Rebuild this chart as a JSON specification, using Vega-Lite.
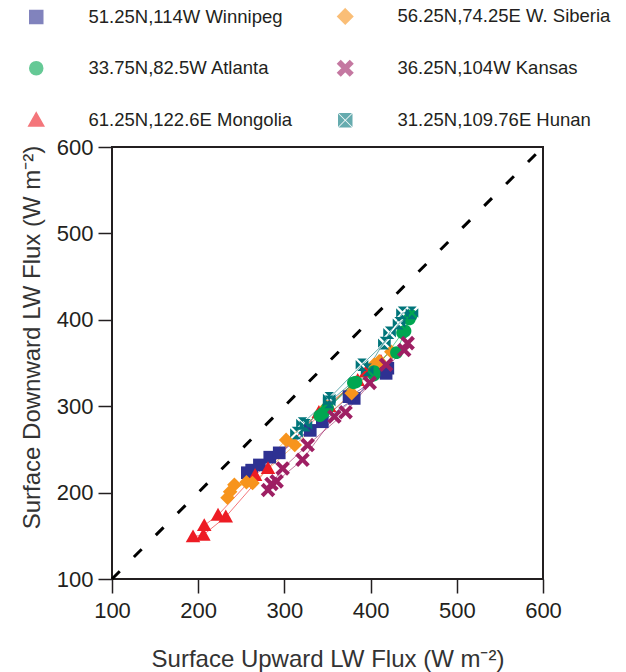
{
  "$schema": "https://vega.github.io/schema/vega-lite/v6.json",
  "width": 431,
  "height": 432,
  "autosize": {"type": "none"},
  "padding": {"left": 112, "top": 147, "right": 83, "bottom": 93},
  "background": "white",
  "config": {
    "font": "Liberation Sans",
    "view": {"stroke": "#231f20", "strokeWidth": 2},
    "axis": {
      "domain": false, "grid": false,
      "tickSize": 14, "tickWidth": 1.5, "tickColor": "#231f20",
      "labelFontSize": 22, "labelColor": "#231f20",
      "labelFlush": false, "labelOverlap": false,
      "titleFontSize": 24, "titleFontWeight": "normal", "titleColor": "#333333"
    },
    "axisX": {"labelPadding": 7, "titlePadding": 26},
    "axisY": {"labelPadding": 5, "titlePadding": 12, "titleY": 190},
    "legend": {
      "orient": "none", "legendX": -105, "legendY": -140,
      "columns": 2, "padding": 0,
      "symbolSize": 169, "symbolOffset": 20, "labelOffset": 43,
      "labelFontSize": 18.5, "labelColor": "#231f20", "labelLimit": 400,
      "rowPadding": 30, "columnPadding": 23
    }
  },
  "datasets": {
    "diag": [{"x0": 100, "y0": 100, "x1": 600, "y1": 600}],
    "flux": [
      {"site": "51.25N,114W Winnipeg", "month": 1, "up": 257, "down": 223},
      {"site": "51.25N,114W Winnipeg", "month": 2, "up": 262, "down": 226},
      {"site": "51.25N,114W Winnipeg", "month": 3, "up": 283, "down": 241},
      {"site": "51.25N,114W Winnipeg", "month": 4, "up": 344, "down": 282},
      {"site": "51.25N,114W Winnipeg", "month": 5, "up": 381, "down": 309},
      {"site": "51.25N,114W Winnipeg", "month": 6, "up": 416, "down": 342},
      {"site": "51.25N,114W Winnipeg", "month": 7, "up": 420, "down": 344},
      {"site": "51.25N,114W Winnipeg", "month": 8, "up": 418, "down": 338},
      {"site": "51.25N,114W Winnipeg", "month": 9, "up": 375, "down": 311},
      {"site": "51.25N,114W Winnipeg", "month": 10, "up": 330, "down": 272},
      {"site": "51.25N,114W Winnipeg", "month": 11, "up": 294, "down": 246},
      {"site": "51.25N,114W Winnipeg", "month": 12, "up": 271, "down": 232},
      {"site": "61.25N,122.6E Mongolia", "month": 1, "up": 194, "down": 149},
      {"site": "61.25N,122.6E Mongolia", "month": 2, "up": 206, "down": 151},
      {"site": "61.25N,122.6E Mongolia", "month": 3, "up": 232, "down": 172},
      {"site": "61.25N,122.6E Mongolia", "month": 4, "up": 281, "down": 228},
      {"site": "61.25N,122.6E Mongolia", "month": 5, "up": 340, "down": 293},
      {"site": "61.25N,122.6E Mongolia", "month": 6, "up": 385, "down": 330},
      {"site": "61.25N,122.6E Mongolia", "month": 7, "up": 412, "down": 352},
      {"site": "61.25N,122.6E Mongolia", "month": 8, "up": 395, "down": 340},
      {"site": "61.25N,122.6E Mongolia", "month": 9, "up": 352, "down": 300},
      {"site": "61.25N,122.6E Mongolia", "month": 10, "up": 266, "down": 220},
      {"site": "61.25N,122.6E Mongolia", "month": 11, "up": 223, "down": 174},
      {"site": "61.25N,122.6E Mongolia", "month": 12, "up": 207, "down": 162},
      {"site": "56.25N,74.25E W. Siberia", "month": 1, "up": 234, "down": 194},
      {"site": "56.25N,74.25E W. Siberia", "month": 2, "up": 237, "down": 201},
      {"site": "56.25N,74.25E W. Siberia", "month": 3, "up": 256, "down": 212},
      {"site": "56.25N,74.25E W. Siberia", "month": 4, "up": 302, "down": 261},
      {"site": "56.25N,74.25E W. Siberia", "month": 5, "up": 349, "down": 299},
      {"site": "56.25N,74.25E W. Siberia", "month": 6, "up": 404, "down": 348},
      {"site": "56.25N,74.25E W. Siberia", "month": 7, "up": 424, "down": 363},
      {"site": "56.25N,74.25E W. Siberia", "month": 8, "up": 410, "down": 352},
      {"site": "56.25N,74.25E W. Siberia", "month": 9, "up": 378, "down": 315},
      {"site": "56.25N,74.25E W. Siberia", "month": 10, "up": 312, "down": 255},
      {"site": "56.25N,74.25E W. Siberia", "month": 11, "up": 263, "down": 211},
      {"site": "56.25N,74.25E W. Siberia", "month": 12, "up": 242, "down": 209},
      {"site": "33.75N,82.5W Atlanta", "month": 1, "up": 341, "down": 289},
      {"site": "33.75N,82.5W Atlanta", "month": 2, "up": 345, "down": 292},
      {"site": "33.75N,82.5W Atlanta", "month": 3, "up": 383, "down": 328},
      {"site": "33.75N,82.5W Atlanta", "month": 4, "up": 404, "down": 336},
      {"site": "33.75N,82.5W Atlanta", "month": 5, "up": 430, "down": 362},
      {"site": "33.75N,82.5W Atlanta", "month": 6, "up": 440, "down": 387},
      {"site": "33.75N,82.5W Atlanta", "month": 7, "up": 447, "down": 405},
      {"site": "33.75N,82.5W Atlanta", "month": 8, "up": 445, "down": 401},
      {"site": "33.75N,82.5W Atlanta", "month": 9, "up": 437, "down": 385},
      {"site": "33.75N,82.5W Atlanta", "month": 10, "up": 404, "down": 340},
      {"site": "33.75N,82.5W Atlanta", "month": 11, "up": 380, "down": 327},
      {"site": "33.75N,82.5W Atlanta", "month": 12, "up": 350, "down": 298},
      {"site": "36.25N,104W Kansas", "month": 1, "up": 281, "down": 203},
      {"site": "36.25N,104W Kansas", "month": 2, "up": 291, "down": 213},
      {"site": "36.25N,104W Kansas", "month": 3, "up": 321, "down": 238},
      {"site": "36.25N,104W Kansas", "month": 4, "up": 358, "down": 288},
      {"site": "36.25N,104W Kansas", "month": 5, "up": 399, "down": 327},
      {"site": "36.25N,104W Kansas", "month": 6, "up": 439, "down": 365},
      {"site": "36.25N,104W Kansas", "month": 7, "up": 443, "down": 373},
      {"site": "36.25N,104W Kansas", "month": 8, "up": 418, "down": 348},
      {"site": "36.25N,104W Kansas", "month": 9, "up": 371, "down": 293},
      {"site": "36.25N,104W Kansas", "month": 10, "up": 327, "down": 255},
      {"site": "36.25N,104W Kansas", "month": 11, "up": 298, "down": 228},
      {"site": "36.25N,104W Kansas", "month": 12, "up": 285, "down": 210},
      {"site": "31.25N,109.76E Hunan", "month": 1, "up": 314, "down": 269},
      {"site": "31.25N,109.76E Hunan", "month": 2, "up": 321, "down": 280},
      {"site": "31.25N,109.76E Hunan", "month": 3, "up": 352, "down": 309},
      {"site": "31.25N,109.76E Hunan", "month": 4, "up": 390, "down": 348},
      {"site": "31.25N,109.76E Hunan", "month": 5, "up": 416, "down": 373},
      {"site": "31.25N,109.76E Hunan", "month": 6, "up": 433, "down": 396},
      {"site": "31.25N,109.76E Hunan", "month": 7, "up": 448, "down": 408},
      {"site": "31.25N,109.76E Hunan", "month": 8, "up": 437, "down": 408},
      {"site": "31.25N,109.76E Hunan", "month": 9, "up": 422, "down": 385},
      {"site": "31.25N,109.76E Hunan", "month": 10, "up": 396, "down": 342},
      {"site": "31.25N,109.76E Hunan", "month": 11, "up": 352, "down": 305},
      {"site": "31.25N,109.76E Hunan", "month": 12, "up": 325, "down": 278}
    ]
  },
  "layer": [
    {
      "data": {"name": "diag"},
      "mark": {"type": "rule", "color": "#000000", "strokeWidth": 3, "strokeDash": [11, 20]},
      "encoding": {
        "x": {
          "field": "x0", "type": "quantitative",
          "scale": {"domain": [100, 600], "nice": false, "zero": false},
          "axis": {"values": [100, 200, 300, 400, 500, 600], "title": "Surface Upward LW Flux (W m⁻²)"}
        },
        "y": {
          "field": "y0", "type": "quantitative",
          "scale": {"domain": [100, 600], "nice": false, "zero": false},
          "axis": {"values": [100, 200, 300, 400, 500, 600], "title": "Surface Downward LW Flux (W m⁻²)"}
        },
        "x2": {"field": "x1"},
        "y2": {"field": "y1"}
      }
    },
    {
      "data": {"name": "flux"},
      "mark": {"type": "line", "strokeWidth": 1, "opacity": 0.6},
      "encoding": {
        "x": {"field": "up", "type": "quantitative"},
        "y": {"field": "down", "type": "quantitative"},
        "stroke": {
          "field": "site", "type": "nominal",
          "scale": {
            "domain": ["51.25N,114W Winnipeg", "33.75N,82.5W Atlanta", "61.25N,122.6E Mongolia", "56.25N,74.25E W. Siberia", "36.25N,104W Kansas", "31.25N,109.76E Hunan"],
            "range": ["#2e3192", "#00a651", "#ed1c24", "#f7941d", "#9e1f63", "#00757a"]
          },
          "legend": {
            "title": null,
            "encode": {
              "symbols": {
                "size": {"value": 169},
                "strokeWidth": {"value": 0},
                "opacity": {"value": 1},
                "fill": {"signal": "scale('color', datum.value)"},
                "shape": {"signal": "datum.value === '51.25N,114W Winnipeg' ? 'M-4.1,-0.11H4.1V0.11H-4.1ZM-1,-1H1V1H-1Z' : datum.value === '56.25N,74.25E W. Siberia' ? 'M-4.1,-0.11H4.1V0.11H-4.1ZM0,-1.15L1.15,0L0,1.15L-1.15,0Z' : datum.value === '33.75N,82.5W Atlanta' ? 'M-4.1,-0.11H4.1V0.11H-4.1ZM1,0A1,1 0 1,1 -1,0A1,1 0 1,1 1,0Z' : datum.value === '36.25N,104W Kansas' ? 'M-4.1,-0.11H4.1V0.11H-4.1ZM0.69,-1.15L1.15,-0.69L0.45,0L1.15,0.69L0.69,1.15L0,0.45L-0.69,1.15L-1.15,0.69L-0.45,0L-1.15,-0.69L-0.69,-1.15L0,-0.45Z' : datum.value === '61.25N,122.6E Mongolia' ? 'M-4.1,-0.11H4.1V0.11H-4.1ZM0,-1.15L1.15,0.9H-1.15Z' : 'M-4.1,-0.11H-1V0.11H-4.1ZM1,-0.11H4.1V0.11H1ZM-0.75,-1H0.75L0,-0.25ZM1,-0.75V0.75L0.25,0ZM0.75,1H-0.75L0,0.25ZM-1,0.75V-0.75L-0.25,0Z'"}
              }
            }
          }
        },
        "order": {"field": "month", "type": "quantitative"}
      }
    },
    {
      "data": {"name": "flux"},
      "mark": {"type": "point", "filled": true, "opacity": 1, "size": 160},
      "encoding": {
        "x": {"field": "up", "type": "quantitative"},
        "y": {"field": "down", "type": "quantitative"},
        "color": {
          "field": "site", "type": "nominal",
          "scale": {
            "domain": ["51.25N,114W Winnipeg", "33.75N,82.5W Atlanta", "61.25N,122.6E Mongolia", "56.25N,74.25E W. Siberia", "36.25N,104W Kansas", "31.25N,109.76E Hunan"],
            "range": ["#2e3192", "#00a651", "#ed1c24", "#f7941d", "#9e1f63", "#00757a"]
          },
          "legend": {
            "title": null,
            "encode": {
              "symbols": {
                "size": {"value": 169},
                "strokeWidth": {"value": 0},
                "opacity": {"value": 1},
                "fill": {"signal": "scale('color', datum.value)"},
                "shape": {"signal": "datum.value === '51.25N,114W Winnipeg' ? 'M-4.1,-0.11H4.1V0.11H-4.1ZM-1,-1H1V1H-1Z' : datum.value === '56.25N,74.25E W. Siberia' ? 'M-4.1,-0.11H4.1V0.11H-4.1ZM0,-1.15L1.15,0L0,1.15L-1.15,0Z' : datum.value === '33.75N,82.5W Atlanta' ? 'M-4.1,-0.11H4.1V0.11H-4.1ZM1,0A1,1 0 1,1 -1,0A1,1 0 1,1 1,0Z' : datum.value === '36.25N,104W Kansas' ? 'M-4.1,-0.11H4.1V0.11H-4.1ZM0.69,-1.15L1.15,-0.69L0.45,0L1.15,0.69L0.69,1.15L0,0.45L-0.69,1.15L-1.15,0.69L-0.45,0L-1.15,-0.69L-0.69,-1.15L0,-0.45Z' : datum.value === '61.25N,122.6E Mongolia' ? 'M-4.1,-0.11H4.1V0.11H-4.1ZM0,-1.15L1.15,0.9H-1.15Z' : 'M-4.1,-0.11H-1V0.11H-4.1ZM1,-0.11H4.1V0.11H1ZM-0.75,-1H0.75L0,-0.25ZM1,-0.75V0.75L0.25,0ZM0.75,1H-0.75L0,0.25ZM-1,0.75V-0.75L-0.25,0Z'"}
              }
            }
          }
        },
        "shape": {
          "field": "site", "type": "nominal",
          "scale": {
            "domain": ["51.25N,114W Winnipeg", "33.75N,82.5W Atlanta", "61.25N,122.6E Mongolia", "56.25N,74.25E W. Siberia", "36.25N,104W Kansas", "31.25N,109.76E Hunan"],
            "range": [
              "M-1,-1H1V1H-1Z",
              "M1,0A1,1 0 1,1 -1,0A1,1 0 1,1 1,0Z",
              "M0,-1.15L1.15,0.9H-1.15Z",
              "M0,-1.15L1.15,0L0,1.15L-1.15,0Z",
              "M0.69,-1.15L1.15,-0.69L0.45,0L1.15,0.69L0.69,1.15L0,0.45L-0.69,1.15L-1.15,0.69L-0.45,0L-1.15,-0.69L-0.69,-1.15L0,-0.45Z",
              "M-0.75,-1H0.75L0,-0.25ZM1,-0.75V0.75L0.25,0ZM0.75,1H-0.75L0,0.25ZM-1,0.75V-0.75L-0.25,0Z"
            ]
          }
        }
      }
    }
  ]
}
